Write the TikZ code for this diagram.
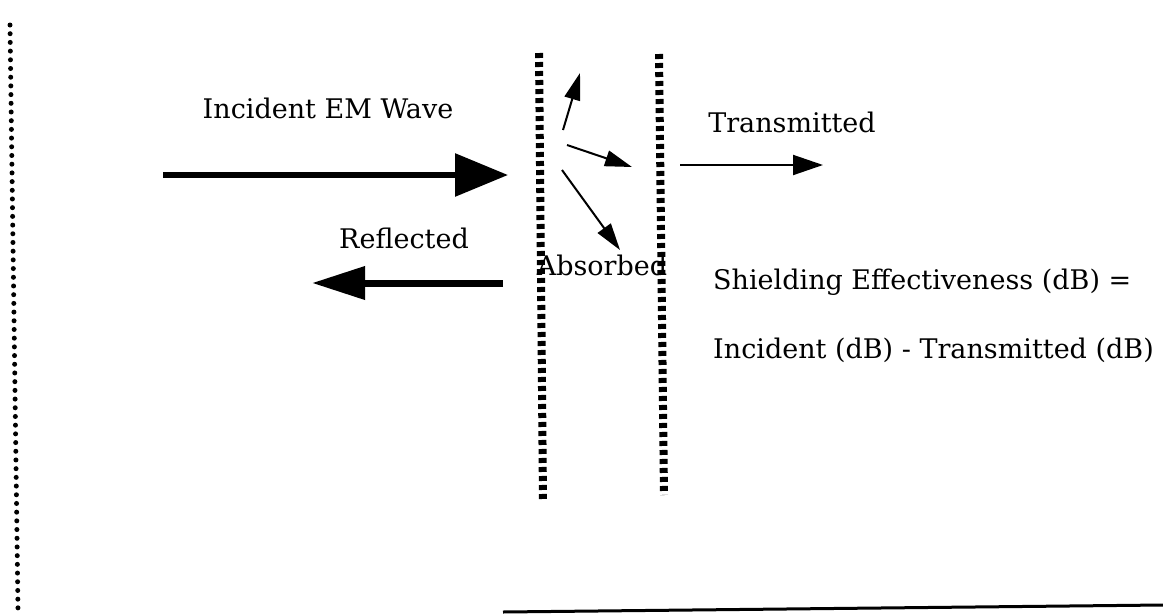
\documentclass[tikz,border=0pt]{standalone}
\usepackage{fontspec}
\setmainfont{DejaVu Serif}
\usepackage{tikz}
\usetikzlibrary{arrows.meta}

\tikzset{
  lbl/.style={inner sep=0pt, font=\fontsize{27}{32}\selectfont},
  shield/.style={line width=8pt, dash pattern=on 5pt off 4pt},
  fatarrow/.style={line width=6pt, -{Triangle[length=53pt, width=42pt]}},
  thinarrow/.style={line width=2pt, -{Triangle[length=27pt, width=16pt]}}
}

\begin{document}
\begin{tikzpicture}[x=1pt, y=-1pt]
            \useasboundingbox (0,0) rectangle (1163,614);

            \coordinate (edge-top) at (10,25);
            \coordinate (edge-bot) at (18,610);
            \draw[line width=5pt, line cap=round, dash pattern=on 0pt off 8.7pt] (edge-top) -- (edge-bot);

            \coordinate (wall1-top) at (539,53);
            \coordinate (wall1-bot) at (543,500);
            \coordinate (wall2-top) at (659,54);
            \coordinate (wall2-bot) at (664,495);
            \draw[shield] (wall1-top) -- (wall1-bot);
            \draw[shield] (wall2-top) -- (wall2-bot);

            \coordinate (base-l) at (503,612);
            \coordinate (base-r) at (1163,605);
            \draw[line width=3pt] (base-l) -- (base-r);

            \node[lbl] (incident) at (328,108) {Incident EM Wave};
            \node[lbl] (reflected) at (404,238) {Reflected};
            \node[lbl] (transmitted) at (792,122) {Transmitted};
            \node[lbl] (absorbed) at (602,265) {Absorbed};
            \node[lbl, anchor=west] (se) at (713,282) {Shielding Effectiveness (dB) =};
            \node[lbl, anchor=west] (formula) at (713,350) {Incident (dB) - Transmitted (dB)};

            \coordinate (inc-a) at (163,175);
            \coordinate (inc-b) at (508,175);
            \coordinate (ref-a) at (503,283);
            \coordinate (ref-b) at (312,283);
            \coordinate (tr-a) at (680,165);
            \coordinate (tr-b) at (823,165);
            \draw[fatarrow] (inc-a) -- (inc-b);
            \draw[line width=7pt, -{Triangle[length=53pt, width=32pt]}] (ref-a) -- (ref-b);
            \draw[line width=2pt, -{Triangle[length=30pt, width=20pt]}] (tr-a) -- (tr-b);

            \coordinate (up-a) at (563,130);
            \coordinate (up-b) at (580,73);
            \coordinate (mid-a) at (567,145);
            \coordinate (mid-b) at (632,167);
            \coordinate (down-a) at (562,170);
            \coordinate (down-b) at (620,250);
            \draw[thinarrow] (up-a) -- (up-b);
            \draw[thinarrow] (mid-a) -- (mid-b);
            \draw[thinarrow] (down-a) -- (down-b);
        \end{tikzpicture}
\end{document}
